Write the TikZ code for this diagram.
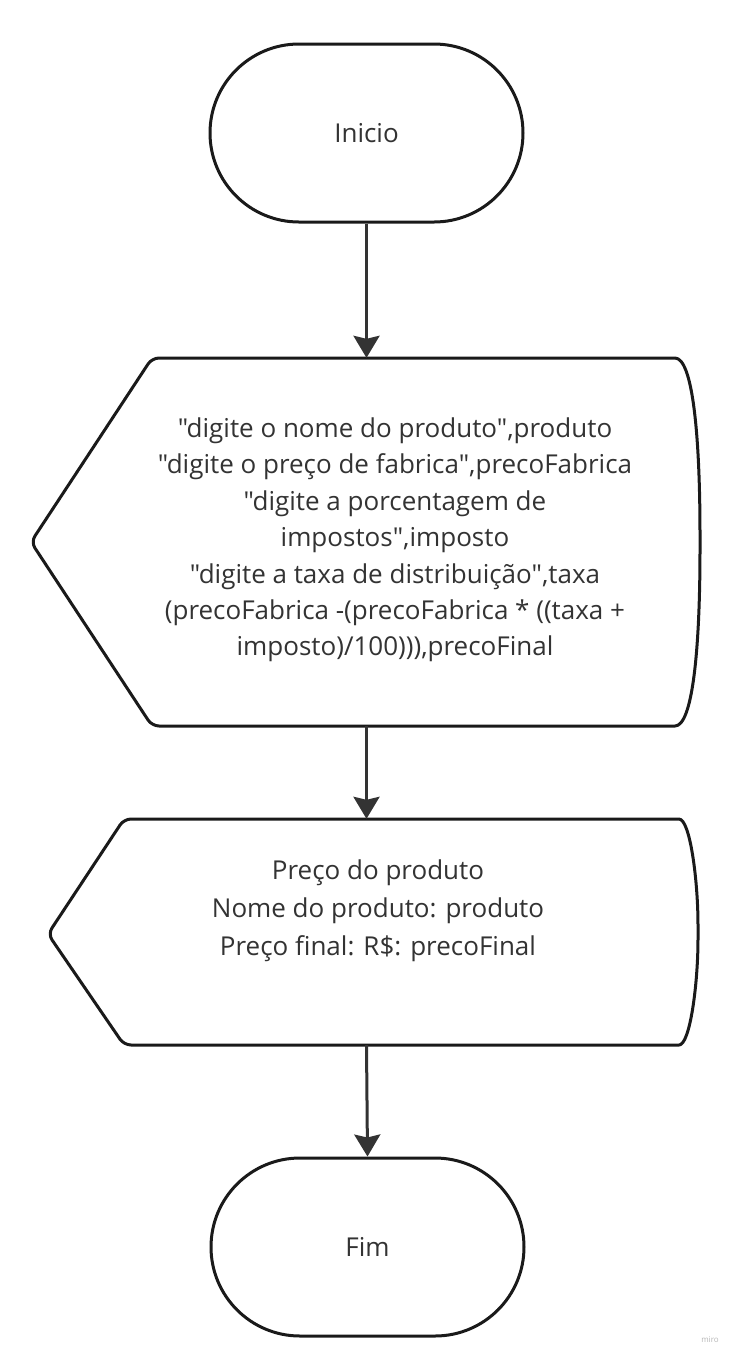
\documentclass[tikz,border=0pt]{standalone}
\usepackage{fontspec}
\setmainfont{Open Sans}[Ligatures=TeXOff]
\usetikzlibrary{shapes.misc,arrows.meta}
\definecolor{ink}{HTML}{1A1A1A}
\definecolor{txt}{HTML}{333333}
\definecolor{wm}{HTML}{B8B8B8}
\begin{document}
\begin{tikzpicture}[x=1pt,y=-1pt,
  term/.style={rounded rectangle, draw=ink, line width=3pt, minimum width=313pt, minimum height=178pt, inner sep=0pt, font=\fontsize{26}{36.5}\selectfont, text=txt},
  box/.style={draw=none, inner sep=0pt},
  outline/.style={draw=ink, line width=3pt, rounded corners=7pt, line join=round},
  arr/.style={draw=txt, line width=3pt, -{Stealth[length=22pt,width=26pt,inset=3pt]}},
  lblA/.style={align=center, text=txt, inner sep=0pt, font=\fontsize{26}{36.4}\selectfont},
  lblB/.style={align=center, text=txt, inner sep=0pt, font=\fontsize{26}{38}\selectfont}]
\useasboundingbox (0,0) rectangle (734,1361);
\fill[white] (0,0) rectangle (734,1361);

\node[term] (start) at (366.5,133) {Inicio};

\node[box, minimum width=669pt, minimum height=368pt] (in) at (365.5,542) {};
\draw[outline] (31,542) -- (152,358) -- (668,358) .. controls (692,358) and (700,430) .. (700,542) .. controls (700,654) and (692,726) .. (668,726) -- (152,726) -- cycle;
\node[lblA] (intext) at (395,540) {"digite o nome do produto",produto\\
"digite o preço de fabrica",precoFabrica\\
"digite a porcentagem de\\
impostos",imposto\\
"digite a taxa de distribuição",taxa\\
(precoFabrica -(precoFabrica * ((taxa +\\
imposto)/100))),precoFinal};

\node[box, minimum width=650pt, minimum height=226pt] (out) at (373,932) {};
\draw[outline] (48,934) -- (124,819) -- (672,819) .. controls (690,819) and (698,880) .. (698,932) .. controls (698,984) and (690,1045) .. (672,1045) -- (124,1045) -- cycle;
\node[lblB] (outtext) at (378,911) {Preço do produto\\
Nome do produto: produto\\
Preço final: R\$: precoFinal};

\node[term] (end) at (367.5,1247) {Fim};

\draw[arr] (start.south) -- (start.south |- in.north);
\draw[arr] (in.south -| start.south) -- (out.north -| start.south);
\draw[arr] (out.south -| start.south) -- (end.north);

\node[text=wm, font=\fontsize{8}{9}\selectfont, inner sep=0pt] (miro) at (710,1340) {miro};
\end{tikzpicture}
\end{document}
